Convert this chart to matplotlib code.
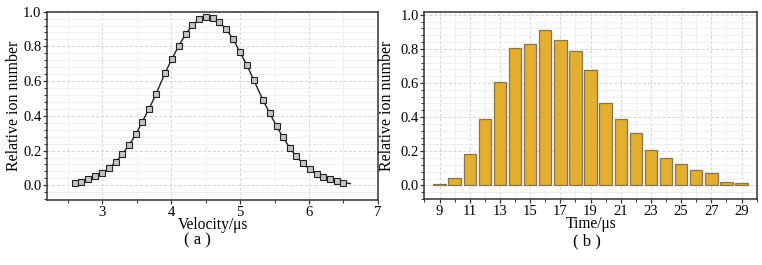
import numpy as np
import matplotlib.pyplot as plt
from matplotlib.ticker import MultipleLocator

plt.rcParams['font.family'] = ['Liberation Serif', 'DejaVu Serif']

# (a) velocity distribution
velocity = [2.60, 2.70, 2.80, 2.90, 3.00, 3.10, 3.20, 3.29, 3.39, 3.49,
            3.58, 3.68, 3.78, 3.91, 4.01, 4.11, 4.21, 4.31, 4.41, 4.51,
            4.61, 4.70, 4.80, 4.90, 5.00, 5.10, 5.20, 5.33, 5.43, 5.53,
            5.62, 5.72, 5.81, 5.91, 6.01, 6.11, 6.21, 6.31, 6.40, 6.50]
ion_a = [0.015, 0.021, 0.035, 0.052, 0.071, 0.098, 0.136, 0.178, 0.232, 0.294,
         0.365, 0.441, 0.524, 0.645, 0.726, 0.804, 0.869, 0.923, 0.956, 0.967,
         0.965, 0.940, 0.898, 0.841, 0.766, 0.691, 0.605, 0.493, 0.415, 0.340,
         0.278, 0.217, 0.167, 0.127, 0.092, 0.067, 0.048, 0.035, 0.025, 0.015]
line_end = (6.60, 0.010)

# (b) time distribution
time_us = list(range(9, 30))
ion_b = [0.010, 0.045, 0.184, 0.389, 0.604, 0.803, 0.828, 0.908, 0.850, 0.789,
         0.674, 0.480, 0.389, 0.305, 0.205, 0.162, 0.127, 0.088, 0.072, 0.020, 0.016]

fig = plt.figure(figsize=(7.62, 2.65), dpi=100)
ax1 = fig.add_axes([0.0617, 0.245, 0.4343, 0.711])
ax2 = fig.add_axes([0.557, 0.249, 0.436, 0.707])

TICK_FS = 10.5
LABEL_FS = 11.2


def style(ax, ylab_x):
    ax.set_axisbelow(True)
    ax.grid(which='major', color='#d4d4d4', linestyle=(0, (3, 2)), linewidth=0.7)
    ax.grid(which='minor', color='#ececec', linestyle='-', linewidth=0.6)
    for s in ax.spines.values():
        s.set_color('#333333')
        s.set_linewidth(1.1)
    ax.tick_params(which='major', direction='out', length=3, width=0.9,
                   labelsize=TICK_FS, pad=1.0, color='#333333')
    ax.tick_params(which='minor', direction='out', length=2, width=0.7, color='#333333')
    ax.yaxis.set_major_locator(MultipleLocator(0.2))
    ax.yaxis.set_minor_locator(MultipleLocator(0.04))
    ax.yaxis.set_major_formatter(plt.FormatStrFormatter('%.1f'))
    ax.set_ylabel('Relative ion number', fontsize=LABEL_FS + 0.3)
    ax.yaxis.set_label_coords(ylab_x, 0.5)


# panel (a)
style(ax1, -0.076)
ax1.plot(list(velocity) + [line_end[0]], list(ion_a) + [line_end[1]],
         color='#222222', linewidth=1.0, zorder=2)
ax1.plot(velocity, ion_a, linestyle='none', marker='s', markersize=4.0,
         markerfacecolor='#c4c4c4', markeredgecolor='#222222',
         markeredgewidth=0.8, zorder=3)
ax1.set_xlim(2.2, 7.0)
ax1.set_ylim(-0.085, 1.0)
ax1.xaxis.set_major_locator(MultipleLocator(1))
ax1.xaxis.set_minor_locator(MultipleLocator(0.5))
ax1.set_xlabel('Velocity/μs', fontsize=LABEL_FS)
ax1.xaxis.set_label_coords(0.5, -0.09)

# panel (b)
style(ax2, -0.088)
ax2.bar(time_us, ion_b, width=0.82, color='#e3ae30', edgecolor='#857550',
        linewidth=0.9, zorder=2)
ax2.set_xlim(8, 30)
ax2.set_ylim(-0.08, 1.018)
ax2.set_xticks(time_us[::2])
ax2.xaxis.set_minor_locator(MultipleLocator(1))
ax2.set_xlabel('Time/μs', fontsize=LABEL_FS)
ax2.xaxis.set_label_coords(0.5, -0.09)

fig.text(0.259, 0.094, '( a )', ha='center', va='center', fontsize=LABEL_FS + 0.8)
fig.text(0.770, 0.090, '( b )', ha='center', va='center', fontsize=LABEL_FS + 0.8)

fig.savefig('out.png', dpi=100, facecolor='white')
